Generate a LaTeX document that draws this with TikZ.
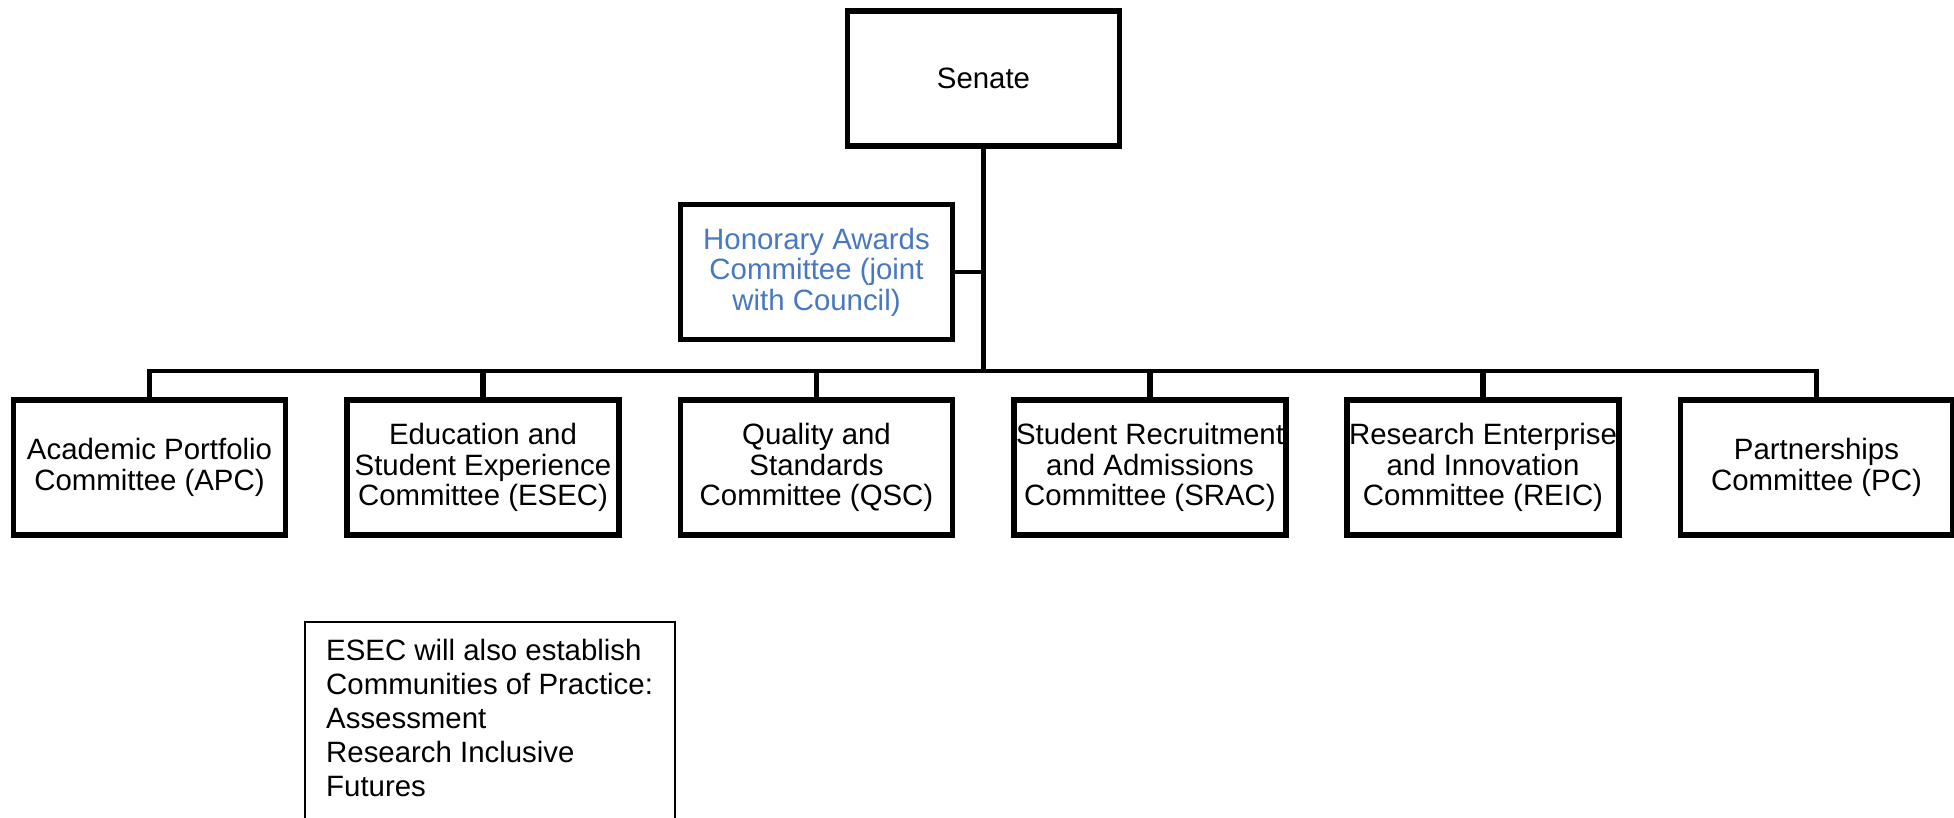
\documentclass[tikz,border=0pt]{standalone}
\usepackage{fontspec}
\setmainfont{Liberation Sans}
\definecolor{honblue}{RGB}{72,120,192}
\begin{document}
\begin{tikzpicture}[x=1pt,y=-1pt,
  box/.style={draw=black,line width=5.5pt,minimum width=272pt,minimum height=135pt,
    inner sep=0pt,align=center,font=\fontsize{29.4}{30.5}\selectfont},
  link/.style={line width=5.3pt},
  barlink/.style={line width=4.5pt},
  thinlink/.style={line width=3.5pt},
  note/.style={anchor=north west,inner sep=0pt,align=left,font=\fontsize{29.4}{34}\selectfont}]
\useasboundingbox (0,0) rectangle (1954,817);
\fill[white] (0,0) rectangle (1954,817);
% top
\node[box] (senate) at (983.5,78.5) {Senate};
\node[box,text=honblue] (hon) at (816.5,272) {Honorary Awards\\Committee (joint\\with Council)};
% committees
\node[box] (apc)  at (149.5,467.5) {Academic Portfolio\\Committee (APC)};
\node[box] (esec) at (483,467.5) {Education and\\Student Experience\\Committee (ESEC)};
\node[box] (qsc)  at (816.5,467.5) {Quality and\\Standards\\Committee (QSC)};
\node[box] (srac) at (1150,467.5) {Student Recruitment\\and Admissions\\Committee (SRAC)};
\node[box] (reic) at (1483,467.5) {Research Enterprise\\and Innovation\\Committee (REIC)};
\node[box] (pc)   at (1816.5,467.5) {Partnerships\\Committee (PC)};
% connectors
\coordinate (bar) at (983.5,371);
\draw[link] (senate.south) -- (bar);
\draw[thinlink] (hon.east) -- (hon.east -| senate.south);
\draw[barlink,line cap=rect] (apc.north |- bar) -- (pc.north |- bar);
\foreach \n in {apc,esec,qsc,srac,reic,pc}{
  \draw[link] (\n.north |- bar) -- (\n.north);
}
% note box
\draw[line width=1.5pt] (305,830) -- (305,622) -- (675,622) -- (675,830);
\node[note] (notetext) at (326,639) {ESEC will also establish\\Communities of Practice:\\Assessment\\Research Inclusive\\Futures};
\end{tikzpicture}
\end{document}
